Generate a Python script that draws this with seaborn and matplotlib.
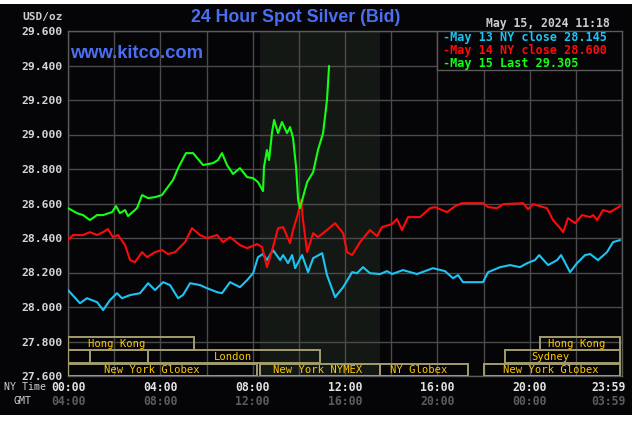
import numpy as np
import pandas as pd
import seaborn as sns
import matplotlib.pyplot as plt
import matplotlib.transforms as mtransforms
from matplotlib.patches import Rectangle

# hours since 00:00 NY time, bid price in USD/oz
hours_may13 = [0.00, 0.52, 0.82, 1.26, 1.52, 1.82, 2.12, 2.34, 2.69, 3.12, 3.47, 3.77, 4.12, 4.42,
               4.77, 4.98, 5.29, 5.72, 6.02, 6.46, 6.67, 7.02, 7.45, 7.76, 8.02, 8.23, 8.45, 8.62,
               8.88, 9.19, 9.32, 9.53, 9.71, 9.84, 10.14, 10.40, 10.62, 11.01, 11.22, 11.35, 11.57,
               11.92, 12.31, 12.52, 12.78, 13.08, 13.52, 13.82, 14.04, 14.51, 15.12, 15.81, 16.33,
               16.68, 16.90, 17.11, 17.98, 18.20, 18.72, 19.15, 19.58, 19.89, 20.23, 20.41, 20.80,
               21.19, 21.36, 21.75, 22.05, 22.40, 22.62, 22.96, 23.35, 23.61, 23.92]
price_may13 = [28.098, 28.022, 28.051, 28.028, 27.982, 28.040, 28.080, 28.051, 28.069, 28.080,
               28.138, 28.098, 28.144, 28.127, 28.051, 28.069, 28.138, 28.127, 28.109, 28.086,
               28.080, 28.144, 28.115, 28.156, 28.196, 28.289, 28.307, 28.272, 28.330, 28.272,
               28.301, 28.254, 28.301, 28.225, 28.301, 28.202, 28.283, 28.312, 28.185, 28.138,
               28.057, 28.115, 28.202, 28.196, 28.231, 28.196, 28.191, 28.208, 28.191, 28.214,
               28.191, 28.225, 28.208, 28.167, 28.185, 28.144, 28.144, 28.202, 28.231, 28.243,
               28.231, 28.254, 28.272, 28.301, 28.243, 28.272, 28.301, 28.202, 28.254, 28.301,
               28.307, 28.272, 28.318, 28.376, 28.388]

hours_may14 = [0.00, 0.22, 0.65, 0.95, 1.26, 1.52, 1.73, 1.95, 2.17, 2.47, 2.69, 2.90, 3.21, 3.42,
               3.77, 4.07, 4.33, 4.64, 5.07, 5.37, 5.72, 6.02, 6.46, 6.72, 7.02, 7.45, 7.76, 8.19,
               8.41, 8.62, 8.75, 8.88, 9.10, 9.32, 9.62, 9.75, 9.97, 10.10, 10.18, 10.36, 10.62,
               10.83, 11.22, 11.57, 11.92, 12.09, 12.31, 12.65, 13.08, 13.39, 13.60, 14.04, 14.25,
               14.47, 14.73, 15.25, 15.68, 15.90, 16.42, 16.77, 17.07, 17.98, 18.20, 18.59, 18.85,
               19.71, 19.93, 20.15, 20.75, 21.01, 21.32, 21.45, 21.66, 21.97, 22.27, 22.62, 22.75,
               22.92, 23.18, 23.48, 23.92]
price_may14 = [28.388, 28.417, 28.417, 28.434, 28.417, 28.434, 28.452, 28.405, 28.417, 28.359,
               28.272, 28.260, 28.318, 28.289, 28.318, 28.330, 28.307, 28.318, 28.376, 28.457,
               28.417, 28.399, 28.417, 28.376, 28.405, 28.359, 28.341, 28.365, 28.347, 28.231,
               28.289, 28.347, 28.457, 28.463, 28.370, 28.446, 28.544, 28.620, 28.504, 28.318,
               28.428, 28.405, 28.446, 28.486, 28.428, 28.318, 28.301, 28.376, 28.446, 28.411,
               28.463, 28.481, 28.510, 28.446, 28.521, 28.521, 28.573, 28.579, 28.550, 28.585,
               28.602, 28.602, 28.579, 28.573, 28.596, 28.602, 28.567, 28.596, 28.573, 28.504,
               28.457, 28.434, 28.515, 28.486, 28.533, 28.521, 28.533, 28.504, 28.562, 28.550,
               28.585]

hours_may15 = [0.00, 0.39, 0.65, 0.95, 1.26, 1.52, 1.91, 2.08, 2.25, 2.47, 2.60, 2.99, 3.21, 3.47,
               3.77, 4.07, 4.29, 4.55, 4.77, 5.11, 5.42, 5.85, 6.28, 6.50, 6.67, 6.89, 7.15, 7.45,
               7.76, 8.02, 8.23, 8.45, 8.49, 8.62, 8.71, 8.84, 8.93, 9.10, 9.27, 9.49, 9.62, 9.75,
               9.88, 9.97, 10.05, 10.18, 10.36, 10.62, 10.83, 11.05, 11.22, 11.31]
price_may15 = [28.573, 28.544, 28.533, 28.504, 28.533, 28.533, 28.550, 28.585, 28.544, 28.562,
               28.527, 28.573, 28.649, 28.631, 28.637, 28.649, 28.689, 28.736, 28.805, 28.892,
               28.892, 28.823, 28.834, 28.852, 28.892, 28.823, 28.771, 28.805, 28.753, 28.747,
               28.724, 28.672, 28.811, 28.910, 28.852, 29.014, 29.084, 29.008, 29.072, 29.008,
               29.043, 28.979, 28.811, 28.620, 28.573, 28.637, 28.724, 28.782, 28.910, 29.008,
               29.200, 29.397]

series_names = ["May 13", "May 14", "May 15"]
series_colors = ["#1cc4f2", "#ff0a0a", "#14ff14"]
legend_labels = ["May 13 NY close 28.145", "May 14 NY close 28.600", "May 15 Last 29.305"]

ny_labels = ["00:00", "04:00", "08:00", "12:00", "16:00", "20:00"]
gmt_labels = ["04:00", "08:00", "12:00", "16:00", "20:00", "00:00"]
label_hours = [0, 4, 8, 12, 16, 20]

# market sessions drawn along the bottom of the chart
session_names = ["Hong Kong", "", "", "London", "New York Globex", "New York NYMEX",
                 "NY Globex", "New York Globex", "Sydney", "Hong Kong"]
session_rows = [2, 1, 1, 1, 0, 0, 0, 0, 1, 2]
session_start = [0.0, 0.0, 0.95, 3.47, 0.0, 8.33, 13.5, 18.0, 18.95, 20.45]
session_end = [5.46, 0.95, 3.47, 10.92, 8.2, 13.5, 17.33, 23.9, 23.9, 23.9]
session_label_x = [2.12, 0, 0, 7.15, 3.64, 10.8, 15.2, 20.9, 20.9, 22.05]
nymex_hours = (8.33, 13.5)

df = pd.concat([
    pd.DataFrame({"Hour": h, "Price": p, "Series": n})
    for h, p, n in zip([hours_may13, hours_may14, hours_may15],
                       [price_may13, price_may14, price_may15], series_names)
])

sns.set_theme(style="dark")
BG = "#050407"
GRID = "#4a4a4a"
MONO = "DejaVu Sans Mono"

fig = plt.figure(figsize=(6.38, 4.21), dpi=100, facecolor="white")
fig.add_artist(Rectangle((0, 6 / 421), 632 / 638, 411 / 421, transform=fig.transFigure,
                         facecolor=BG, edgecolor="none", zorder=-5))
ax = fig.add_axes([68 / 638, 1 - 376 / 421, 554 / 638, 345 / 421])
ax.set_facecolor(BG)

ax.axvspan(*nymex_hours, color="#141814", zorder=0.2, lw=0)

sns.lineplot(data=df, x="Hour", y="Price", hue="Series", palette=series_colors,
             sort=False, estimator=None, linewidth=1.5, legend=False, ax=ax, zorder=3)

ax.set_xlim(0, 24)
ax.set_ylim(27.6, 29.6)
ax.set_xticks(np.arange(0, 25, 2))
ax.set_xticklabels([])
yt = np.round(np.arange(27.6, 29.61, 0.2), 1)
ax.set_yticks(yt)
ax.set_yticklabels([f"{v:.3f}" for v in yt], fontfamily=MONO, fontweight="bold",
                   fontsize=8.2, color="#d6d6d6")
ax.tick_params(length=0, pad=4)
ax.grid(True, color=GRID, lw=1)
ax.set_axisbelow(True)
ax.set_xlabel("")
ax.set_ylabel("")
for s in ax.spines.values():
    s.set_color("#5a5a5a")
    s.set_linewidth(1)

# session boxes
row_bottom = [27.600, 27.676, 27.752]
row_h = 0.072
for name, r, a, b, lx in zip(session_names, session_rows, session_start, session_end, session_label_x):
    ax.add_patch(Rectangle((a, row_bottom[r]), b - a, row_h, facecolor="none",
                           edgecolor="#a39c6c", lw=1.4, zorder=4))
    if name:
        ax.text(lx, row_bottom[r] + row_h / 2, name, ha="center", va="center",
                fontfamily=MONO, fontsize=7.6, color="#ffc800", zorder=5)

# time labels
trans = mtransforms.blended_transform_factory(ax.transData, ax.transAxes)
for h, ny, gmt in zip(label_hours, ny_labels, gmt_labels):
    ax.text(h, -0.032, ny, transform=trans, ha="center", va="center", fontfamily=MONO,
            fontweight="bold", fontsize=8.3, color="#e2e2e2")
    ax.text(h, -0.073, gmt, transform=trans, ha="center", va="center", fontfamily=MONO,
            fontweight="bold", fontsize=8.3, color="#5c5c5c")
off = mtransforms.offset_copy(trans, fig=fig, x=4, units="dots")
ax.text(24, -0.032, "23:59", transform=off, ha="right", va="center", fontfamily=MONO,
        fontweight="bold", fontsize=8.3, color="#e2e2e2")
ax.text(24, -0.073, "03:59", transform=off, ha="right", va="center", fontfamily=MONO,
        fontweight="bold", fontsize=8.3, color="#5c5c5c")
fig.text(25 / 638, 1 - 387 / 421, "NY Time", ha="center", va="center", fontfamily=MONO,
         fontsize=7.2, color="#cfcfcf")
fig.text(22 / 638, 1 - 401 / 421, "GMT", ha="center", va="center", fontfamily=MONO,
         fontsize=7.2, color="#cfcfcf")

# legend box
ax.add_patch(Rectangle((0.666, 0.887), 0.334, 0.113, transform=ax.transAxes,
                       facecolor=BG, edgecolor="#5a5a5a", lw=1, zorder=6))
for i, (lab, c) in enumerate(zip(legend_labels, series_colors)):
    ax.text(0.676, 0.980 - i * 0.037, "-" + lab, transform=ax.transAxes, ha="left",
            va="center", fontfamily=MONO, fontweight="bold", fontsize=8.5, color=c, zorder=7)

# header texts
fig.text(296 / 638, 1 - 18 / 421, "24 Hour Spot Silver (Bid)", ha="center", va="center",
         fontfamily="Liberation Sans", fontweight="bold", fontsize=12.8, color="#4a6ff2")
fig.text(70 / 638, 1 - 53 / 421, "www.kitco.com", ha="left", va="center",
         fontfamily="Liberation Sans", fontweight="bold", fontsize=13.2, color="#4a6ff2")
fig.text(610 / 638, 1 - 24 / 421, "May 15, 2024 11:18", ha="right", va="center",
         fontfamily=MONO, fontweight="bold", fontsize=8.3, color="#cccccc")
fig.text(63 / 638, 1 - 17 / 421, "USD/oz", ha="right", va="center", fontfamily=MONO,
         fontweight="bold", fontsize=8, color="#cccccc")

fig.savefig("out.png", dpi=100, facecolor="white")
